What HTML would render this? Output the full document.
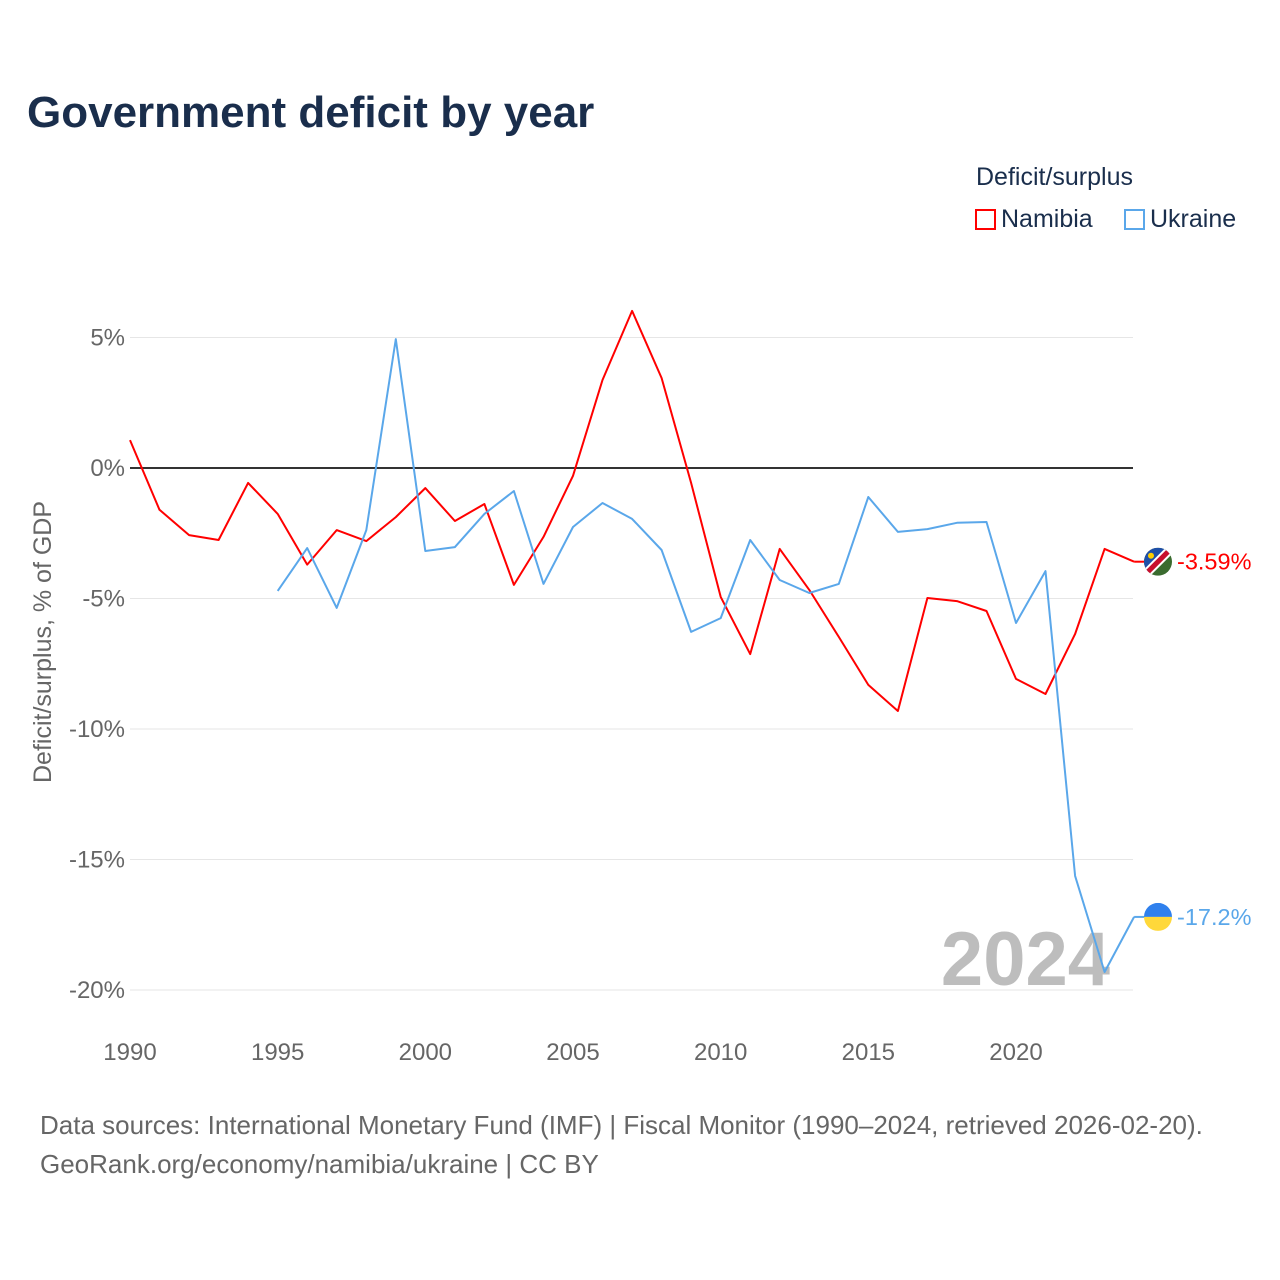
<!DOCTYPE html>
<html><head><meta charset="utf-8">
<style>
html,body{margin:0;padding:0;background:#fff;}
body{width:1280px;height:1280px;position:relative;font-family:"Liberation Sans",sans-serif;overflow:hidden;}
#title{position:absolute;left:27px;top:88px;font-size:44px;font-weight:bold;color:#1a2e4c;margin:0;}
#legend-title{position:absolute;left:976px;top:163px;font-size:25px;color:#1a2e4c;}
.leg{position:absolute;top:205px;font-size:25px;color:#1a2e4c;}
.sw{display:inline-block;width:21px;height:21px;border:2px solid;box-sizing:border-box;vertical-align:-3px;margin-right:5px;}
#source{position:absolute;left:40px;top:1106px;font-size:26px;color:#666;line-height:39px;}
</style></head><body>
<h1 id="title">Government deficit by year</h1>
<div id="legend-title">Deficit/surplus</div>
<div class="leg" style="left:975px"><span class="sw" style="border-color:#f00"></span>Namibia</div>
<div class="leg" style="left:1124px"><span class="sw" style="border-color:#5aa7ea"></span>Ukraine</div>
<svg id="chart" width="1280" height="1280" style="position:absolute;left:0;top:0"></svg>
<div id="source">Data sources: International Monetary Fund (IMF) | Fiscal Monitor (1990–2024, retrieved 2026-02-20).<br>GeoRank.org/economy/namibia/ukraine | CC BY</div>
<script>
const namibiaYears = [1990,1991,1992,1993,1994,1995,1996,1997,1998,1999,2000,2001,2002,2003,2004,2005,2006,2007,2008,2009,2010,2011,2012,2013,2014,2015,2016,2017,2018,2019,2020,2021,2022,2023,2024];
const namibiaValues = [1.07,-1.6,-2.57,-2.76,-0.57,-1.76,-3.7,-2.38,-2.8,-1.88,-0.77,-2.03,-1.38,-4.48,-2.64,-0.3,3.37,6.02,3.45,-0.57,-4.94,-7.13,-3.1,-4.67,-6.47,-8.31,-9.31,-4.98,-5.1,-5.48,-8.08,-8.66,-6.36,-3.1,-3.59];
const ukraineYears = [1995,1996,1997,1998,1999,2000,2001,2002,2003,2004,2005,2006,2007,2008,2009,2010,2011,2012,2013,2014,2015,2016,2017,2018,2019,2020,2021,2022,2023,2024];
const ukraineValues = [-4.71,-3.07,-5.36,-2.38,4.94,-3.18,-3.03,-1.76,-0.88,-4.44,-2.26,-1.34,-1.95,-3.14,-6.28,-5.75,-2.76,-4.29,-4.79,-4.44,-1.11,-2.45,-2.34,-2.1,-2.07,-5.94,-3.95,-15.63,-19.31,-17.2];
const yTicks = [5,0,-5,-10,-15,-20];
const yTickLabels = ["5%","0%","-5%","-10%","-15%","-20%"];
const xTicks = [1990,1995,2000,2005,2010,2015,2020];

const NS="http://www.w3.org/2000/svg";
const svg=document.getElementById('chart');
const X=y=>130+(y-1990)*(1016-130)/30;
const Y=v=>468-v*26.1;
function mk(tag,attrs,parent){const e=document.createElementNS(NS,tag);for(const k in attrs)e.setAttribute(k,attrs[k]);(parent||svg).appendChild(e);return e;}

yTicks.forEach((t,i)=>{
  const g=mk('line',{x1:130,x2:1133,y1:Y(t),y2:Y(t),stroke:t===0?'#333':'#e6e6e6','stroke-width':t===0?2:1});
  
  
  const l=mk('text',{x:125,y:Y(t)+8,'text-anchor':'end','font-size':24,fill:'#666','font-family':'Liberation Sans, sans-serif'});
  l.textContent=yTickLabels[i];
  
  
});
xTicks.forEach(t=>{
  const l=mk('text',{x:X(t),y:1060,'text-anchor':'middle','font-size':24,fill:'#666','font-family':'Liberation Sans, sans-serif'});
  l.textContent=t;
  
  
});
const yt=mk('text',{x:0,y:0,transform:'translate(51,642) rotate(-90)','text-anchor':'middle','font-size':25,fill:'#666','font-family':'Liberation Sans, sans-serif'});
yt.textContent='Deficit/surplus, % of GDP';



const yr=mk('text',{x:1110,y:985,'text-anchor':'end','font-size':76,'font-weight':'bold',fill:'#bdbdbd','font-family':'Liberation Sans, sans-serif'});
yr.textContent='2024';



function series(years,vals,color,name){
  const d=years.map((y,i)=>(i?'L':'M')+X(y).toFixed(1)+','+Y(vals[i]).toFixed(1)).join(' ');
  const p=mk('path',{d:d,fill:'none',stroke:color,'stroke-width':2,'stroke-linejoin':'round'});
  
  
  const lv=vals[vals.length-1], ly=Y(lv), lx=X(years[years.length-1]);
  const c=mk('line',{x1:lx,x2:1145,y1:ly,y2:ly,stroke:color,'stroke-width':2});
  
  
  return ly;
}
const ny=series(namibiaYears,namibiaValues,'#f00','namibia');
const uy=series(ukraineYears,ukraineValues,'#5aa7ea','ukraine');

const defs=mk('defs',{});
const cp1=mk('clipPath',{id:'c1'},defs);mk('circle',{cx:1158,cy:ny,r:14},cp1);
const cp2=mk('clipPath',{id:'c2'},defs);mk('circle',{cx:1158,cy:uy,r:14},cp2);
const nf=mk('g',{'clip-path':'url(#c1)'});


mk('rect',{x:1144,y:ny-14,width:28,height:28,fill:'#3a6b2f'},nf);
mk('polygon',{points:`1144,${ny-14} 1172,${ny-14} 1144,${ny+14}`,fill:'#1e4fa8'},nf);
mk('line',{x1:1172,y1:ny-14,x2:1144,y2:ny+14,stroke:'#fff','stroke-width':9},nf);
mk('line',{x1:1172,y1:ny-14,x2:1144,y2:ny+14,stroke:'#c8102e','stroke-width':5},nf);
mk('circle',{cx:1151,cy:ny-6,r:3,fill:'#ffce00'},nf);
const uf=mk('g',{'clip-path':'url(#c2)'});


mk('rect',{x:1144,y:uy-14,width:28,height:14,fill:'#2f80ed'},uf);
mk('rect',{x:1144,y:uy,width:28,height:14,fill:'#ffd83a'},uf);

const nl=mk('text',{x:1177,y:ny+8,'font-size':23.5,fill:'#f00','font-family':'Liberation Sans, sans-serif'});
nl.textContent='-3.59%';


const ul=mk('text',{x:1177,y:uy+8,'font-size':23.5,fill:'#5aa7ea','font-family':'Liberation Sans, sans-serif'});
ul.textContent='-17.2%';


</script>
</body></html>
